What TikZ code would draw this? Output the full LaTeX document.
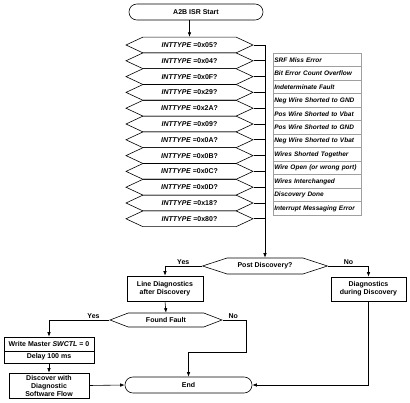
\documentclass[tikz,border=0pt]{standalone}
\usepackage{fontspec}
\setmainfont{Liberation Sans}
\usetikzlibrary{shapes.symbols,arrows.meta}

\tikzset{
  every node/.style={font=\fontsize{7}{8}\selectfont\bfseries},
  term/.style={draw, rounded corners=7.9pt, minimum height=16pt, inner sep=0pt},
  hexbox/.style={draw, shape=signal, signal to=west and east, signal pointer angle=50,
    minimum width=127pt, minimum height=15.8pt, inner sep=0pt},
  lbl/.style={draw=gray!75, anchor=north west, minimum width=88pt, minimum height=13.5pt,
    text width=86pt, inner sep=1pt, align=left, font=\fontsize{6.5}{8}\selectfont\bfseries\itshape},
  procbox/.style={draw, align=center, inner sep=0pt},
}

\begin{document}
\begin{tikzpicture}[x=1pt, y=-1pt, line width=0.6pt, >={Latex[length=4.5pt,width=3.5pt]}]
\useasboundingbox (0,0) rectangle (410,403);
% start
\node[term, minimum width=134pt] (start) at (196,12) {A2B ISR Start};
% interrupt type checks
\foreach \v [count=\i] in {05,04,0F,29,2A,09,0A,0B,0C,0D,18,80}
  \node[hexbox] (h\i) at (189.5,{45+15.8*(\i-1)}) {\textit{INTTYPE} =0x\v?};
\foreach \t [count=\i] in {SRF Miss Error, Bit Error Count Overflow, Indeterminate Fault,
    Neg Wire Shorted to GND, Pos Wire Shorted to Vbat, Pos Wire Shorted to GND,
    Neg Wire Shorted to Vbat, Wires Shorted Together, Wire Open (or wrong port),
    Wires Interchanged, Discovery Done, Interrupt Messaging Error}
  \node[lbl] (l\i) at (273,{53+13.5*(\i-1)}) {\t};
% decisions and boxes
\node[hexbox, minimum width=125pt, minimum height=16pt, signal pointer angle=36] (post) at (265,266) {Post Discovery?};
\node[procbox, minimum width=76pt, minimum height=25pt] (linediag) at (165,288.5) {Line Diagnostics\\after Discovery};
\node[procbox, minimum width=75pt, minimum height=24pt] (during) at (368.5,289) {Diagnostics\\during Discovery};
\node[hexbox, minimum width=112pt, minimum height=14pt, signal pointer angle=42] (found) at (166,320) {Found Fault};
\node[procbox, minimum width=90pt, minimum height=14pt] (write) at (49,344) {Write Master \textit{SWCTL} = 0};
\node[procbox, minimum width=90pt, minimum height=12pt] (delay) at (49,357) {Delay 100 ms};
\node[procbox, minimum width=80pt, minimum height=25pt] (discover) at (49,385.5) {Discover with\\Diagnostic\\Software Flow};
\node[term, minimum width=127pt] (finish) at (188.5,385) {End};
% connectors
\draw[->] (start.south -| h1.north) -- (h1.north);
\draw[->] (h1.east) -| (post.north);
\foreach \i in {2,...,12}
  \draw (h\i.east) -- (h\i.east -| post.north);
\draw[->] (post.west) -| node[pos=0.25, above, inner sep=1.5pt] {Yes} (linediag.north);
\draw[->] (post.east) -| node[pos=0.25, above, inner sep=1.5pt] {No} (during.north);
\draw[->] (linediag.south) -- (found.north);
\draw[->] (found.west) -| node[pos=0.13, above, inner sep=1.5pt] {Yes} (write.north);
\draw[->] (found.east) -- node[pos=0.45, above, inner sep=1.5pt] {No} ++(23,0) -- ++(0,32) -| (finish.north);
\draw[->] (delay.south) -- (discover.north);
\draw[->] (discover.east) -- (finish.west);
\draw[->] (during.south) |- (finish.east);
\end{tikzpicture}
\end{document}
